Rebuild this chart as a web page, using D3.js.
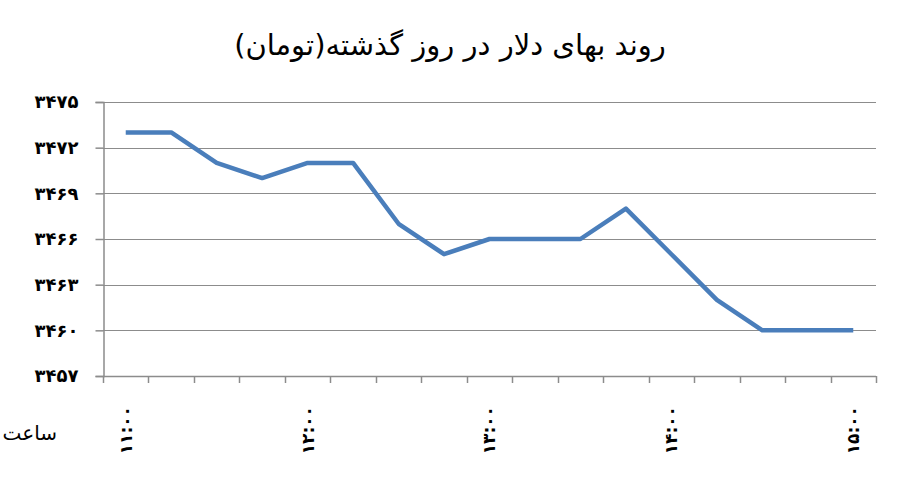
<!DOCTYPE html>
<html>
<head>
<meta charset="utf-8">
<script src="https://cdn.jsdelivr.net/npm/d3@7/dist/d3.min.js"></script>
<style>
  body { margin: 0; background: #fff; }
  svg { display: block; }
  text { font-family: "DejaVu Sans", sans-serif; fill: #000; }
</style>
</head>
<body>
<svg id="chart" width="900" height="503"></svg>
<script>
// times (every 15 minutes) and price in toman
const times = ['11:00', '11:15', '11:30', '11:45', '12:00', '12:15', '12:30', '12:45',
  '13:00', '13:15', '13:30', '13:45', '14:00', '14:15', '14:30', '14:45', '15:00'];
const prices = [3473, 3473, 3471, 3470, 3471, 3471, 3467, 3465,
  3466, 3466, 3466, 3468, 3465, 3462, 3460, 3460, 3460];
const y_ticks = [3457, 3460, 3463, 3466, 3469, 3472, 3475];
const x_labels = ['11:00', '12:00', '13:00', '14:00', '15:00'];

const title_text = 'روند بهای دلار در روز گذشته(تومان)';
const x_title = 'ساعت';

// latin digits -> persian digits
const fa_digits = '۰۱۲۳۴۵۶۷۸۹';
function to_fa(s) {
  return String(s).replace(/[0-9]/g, function(c) { return fa_digits[+c]; });
}

let svg = d3.select('#chart');

let plot = { left: 103, right: 876, top: 102, bottom: 376 };

let x_scale = d3.scaleBand()
  .domain(times)
  .range([plot.left, plot.right])
  .paddingInner(0)
  .paddingOuter(0);

let y_scale = d3.scaleLinear()
  .domain([3457, 3475])
  .range([plot.bottom, plot.top]);

let grid_color = '#8c8c8c';

// horizontal gridlines
svg.append('g')
  .selectAll('line')
  .data(y_ticks.slice(1))
  .enter()
  .append('line')
  .attr('x1', plot.left)
  .attr('x2', plot.right)
  .attr('y1', d => Math.round(y_scale(d)) + 0.5)
  .attr('y2', d => Math.round(y_scale(d)) + 0.5)
  .style('stroke', grid_color)
  .style('stroke-width', 1.2);

// y axis
let y_axis = d3.axisLeft(y_scale)
  .tickValues(y_ticks)
  .tickSize(8)
  .tickPadding(17)
  .tickFormat(d => to_fa(d));

let y_g = svg.append('g')
  .attr('transform', 'translate(' + (plot.left + 0.5) + ',0)')
  .call(y_axis);
y_g.selectAll('.domain, line').style('stroke', grid_color).style('stroke-width', 1.5);
y_g.selectAll('text')
  .style('font-size', '18px')
  .style('font-weight', 'bold')
  .style('letter-spacing', '4px')
  .attr('direction', 'ltr');

// x axis: ticks at category boundaries
let boundaries = times.map(d => x_scale(d)).concat([plot.right]);
let x_g = svg.append('g');
x_g.append('line')
  .attr('x1', plot.left)
  .attr('x2', plot.right)
  .attr('y1', plot.bottom + 0.5)
  .attr('y2', plot.bottom + 0.5)
  .style('stroke', grid_color)
  .style('stroke-width', 1.5);
x_g.selectAll('.xtick')
  .data(boundaries)
  .enter()
  .append('line')
  .attr('class', 'xtick')
  .attr('x1', d => Math.round(d) + 0.5)
  .attr('x2', d => Math.round(d) + 0.5)
  .attr('y1', plot.bottom)
  .attr('y2', plot.bottom + 7)
  .style('stroke', grid_color)
  .style('stroke-width', 1.5);

// rotated hour labels
x_g.selectAll('.xlabel')
  .data(x_labels)
  .enter()
  .append('text')
  .attr('class', 'xlabel')
  .attr('transform', d =>
    'translate(' + (x_scale(d) + x_scale.bandwidth() / 2) + ',' + 406 + ') rotate(-90)')
  .attr('text-anchor', 'end')
  .attr('dy', '0.35em')
  .attr('direction', 'ltr')
  .style('font-size', '17px')
  .style('font-weight', 'bold')
  .style('letter-spacing', '4px')
  .text(d => to_fa(d));

svg.append('text')
  .attr('x', 57)
  .attr('y', 440)
  .attr('text-anchor', 'end')
  .style('font-size', '20px')
  .text(x_title);

// the price line
let line = d3.line()
  .x((d, i) => x_scale(times[i]) + x_scale.bandwidth() / 2)
  .y(d => y_scale(d));

svg.append('path')
  .datum(prices)
  .attr('d', line)
  .style('fill', 'none')
  .style('stroke', '#4a7ebb')
  .style('stroke-width', 4.5)
  .style('stroke-linejoin', 'round');

// title
svg.append('text')
  .attr('x', 450)
  .attr('y', 55)
  .attr('text-anchor', 'middle')
  .attr('direction', 'rtl')
  .style('font-size', '29px')
  .text(title_text);
</script>
</body>
</html>
